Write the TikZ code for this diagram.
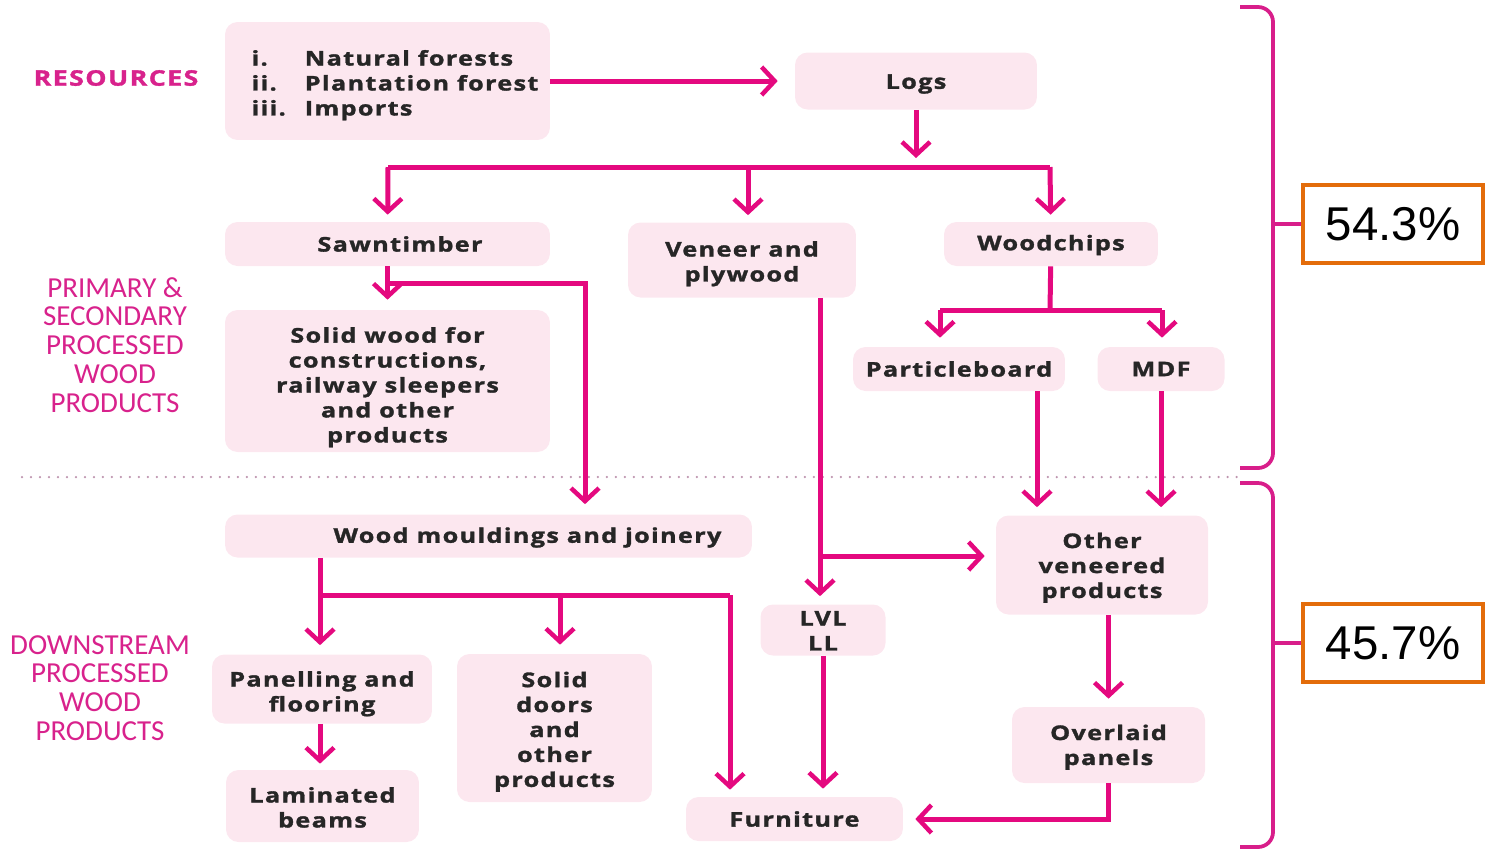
\documentclass[tikz,border=0pt]{standalone}
\usepackage{fontspec}
\setmainfont{Open Sans}[LetterSpace=6.5, BoldFeatures={FakeStretch=1.25, FakeBold=1.5}]
\newfontfamily\labfont{Carlito}
\newfontfamily\pctfont{Liberation Sans}
\usetikzlibrary{arrows.meta}
\definecolor{mag}{HTML}{E4097F}
\definecolor{boxpink}{HTML}{FCE7EF}
\definecolor{labpink}{HTML}{D8228C}
\definecolor{bracepink}{HTML}{D81E8A}
\definecolor{orng}{HTML}{E36C0A}
\definecolor{dotpink}{HTML}{BE94AE}
\newcommand\ml[2][0.08cm]{\raisebox{-#1}[\height][\depth]{\begin{tabular}{@{}c@{}}#2\end{tabular}}}
\newcommand\lo[2][0.06cm]{\raisebox{-#1}[\height][\depth]{#2}}
\tikzset{
  box/.style={fill=boxpink, rounded corners=0.25cm, inner sep=0pt, align=center,
    font=\fontsize{11.5}{14.2}\selectfont\bfseries, text=black!85},
  flow/.style={draw=mag, line width=0.1cm},
  arr/.style={flow, -{Straight Barb[length=0.26cm, width=0.56cm, line width=0.09cm]}},
  lab/.style={align=center, text=labpink, font=\labfont\fontsize{16.5}{16.4}\selectfont},
  brace/.style={draw=bracepink, line width=0.075cm, rounded corners=0.3cm},
  pct/.style={draw=orng, line width=0.08cm, fill=white, inner sep=0pt,
    minimum width=3.6cm, minimum height=1.56cm, font=\pctfont\fontsize{27}{30}\selectfont}
}
\begin{document}
\begin{tikzpicture}[x=0.02cm, y=-0.02cm]
\useasboundingbox (0,0) rectangle (1486,850);

% side labels
\node[text=labpink, font=\fontsize{12.2}{15}\selectfont\bfseries] (lres) at (116,78) {RESOURCES};
\node[lab] (lprim) at (115,345) {PRIMARY \&\\SECONDARY\\PROCESSED\\WOOD\\PRODUCTS};
\node[lab] (ldown) at (100,688) {DOWNSTREAM\\PROCESSED\\WOOD\\PRODUCTS};

% dotted separator
\coordinate (dl) at (22,477);
\coordinate (dr) at (1240,477);
\draw[dotpink, line width=0.05cm, line cap=round, dash pattern=on 0pt off 0.18cm] (dl) -- (dr);

% boxes
\node[box, minimum width=6.5cm, minimum height=2.36cm] (res) at (387.5,81)
  {\hspace*{0.3cm}\raisebox{-0.09cm}[\height][\depth]{\begin{tabular}{@{}l@{\hspace{0.38cm}}l@{}}i. & Natural forests\\ ii. & Plantation forest\\ iii. & Imports\end{tabular}}};
\node[box, minimum width=4.84cm, minimum height=1.14cm] (logs) at (916,81) {\lo{Logs}};
\node[box, minimum width=6.5cm, minimum height=0.88cm] (saw) at (387.5,244) {\hspace*{0.5cm}Sawntimber};
\node[box, minimum width=4.56cm, minimum height=1.5cm] (ven) at (742,260) {\ml{Veneer and\\plywood}};
\node[box, minimum width=4.28cm, minimum height=0.88cm] (chips) at (1051,244) {\lo[0.02cm]{Woodchips}};
\node[box, minimum width=6.5cm, minimum height=2.84cm] (solid) at (387.5,381) {\ml[0.13cm]{Solid wood for\\constructions,\\railway sleepers\\and other\\products}};
\node[box, minimum width=4.24cm, minimum height=0.88cm] (pb) at (959,369) {Particleboard};
\node[box, minimum width=2.54cm, minimum height=0.88cm] (mdf) at (1161,369) {MDF};
\node[box, minimum width=10.54cm, minimum height=0.86cm] (mould) at (488.5,536) {\hspace*{1.56cm}\lo[0.03cm]{Wood mouldings and joinery}};
\node[box, minimum width=4.24cm, minimum height=1.98cm] (other) at (1102,565) {\ml[0.06cm]{Other\\veneered\\products}};
\node[box, minimum width=2.5cm, minimum height=1.02cm] (lvl) at (823,630) {\ml[0.06cm]{LVL\\LL}};
\node[box, minimum width=4.4cm, minimum height=1.38cm] (pan) at (322,689) {\ml[0.1cm]{Panelling and\\flooring}};
\node[box, minimum width=3.9cm, minimum height=2.96cm] (doors) at (554.5,728) {\ml[0.08cm]{Solid\\doors\\and\\other\\products}};
\node[box, minimum width=3.86cm, minimum height=1.52cm] (over) at (1108.5,745) {\ml[0.05cm]{Overlaid\\panels}};
\node[box, minimum width=3.86cm, minimum height=1.44cm] (lam) at (322.5,806) {\ml[0.08cm]{Laminated\\beams}};
\node[box, minimum width=4.34cm, minimum height=0.88cm] (furn) at (794.5,819) {Furniture};

% junction coordinates
\coordinate (j1) at (916,167);
\coordinate (jL) at (388,167);
\coordinate (jM) at (748,167);
\coordinate (jR) at (1050,167);
\coordinate (j2) at (388,283);
\coordinate (xS) at (585,0);
\coordinate (j3) at (820,556);
\coordinate (j4) at (1050,310);
\coordinate (jPB) at (940,310);
\coordinate (jMDF) at (1162,310);
\coordinate (xPB) at (1037,0);
\coordinate (j5) at (320,595);
\coordinate (xF) at (730,0);
\coordinate (xD) at (560,0);

% connectors
\draw[arr, shorten >=0.34cm] (res.east) -- (logs.west);
\draw[arr, shorten >=0.18cm] (logs) -- (j1);
\draw[flow] (jL) -- (jR);
\draw[arr, shorten >=0.14cm] (jL) -- (saw);
\draw[arr, shorten >=0.14cm] (jM) -- (jM |- ven.north);
\draw[arr, shorten >=0.14cm] (jR) -- (chips);
\draw[arr, shorten >=0.2cm] (saw) -- (solid);
\draw[arr, shorten >=0.2cm] (j2) -| (xS |- mould.north);
\draw[arr, shorten >=0.16cm] (ven.south -| j3) -- (j3 |- lvl.north);
\draw[arr, shorten >=0.22cm] (j3) -- (other.west |- j3);
\draw[flow] (chips) -- (j4);
\draw[flow] (jPB) -- (jMDF);
\draw[arr, shorten >=0.18cm] (jPB) -- (jPB |- pb.north);
\draw[arr, shorten >=0.18cm] (jMDF) -- (jMDF |- mdf.north);
\draw[arr, shorten >=0.16cm] (pb.south -| xPB) -- (other.north -| xPB);
\draw[arr, shorten >=0.16cm] (mdf.south) -- (other.north -| mdf.south);
\draw[arr, shorten >=0.18cm] (mould.south -| j5) -- (j5 |- pan.north);
\draw[flow] (j5) -- (j5 -| xF);
\draw[arr, shorten >=0.18cm] (j5 -| xD) -- (xD |- doors.north);
\draw[arr, shorten >=0.14cm] (j5 -| xF) -- (xF |- furn.north);
\draw[arr, shorten >=0.16cm] (lvl.south) -- (lvl.south |- furn.north);
\draw[arr, shorten >=0.16cm] (other.south -| over.north) -- (over.north);
\draw[arr, shorten >=0.12cm] (pan.south -| j5) -- (j5 |- lam.north);
\draw[arr, shorten >=0.24cm] (over.south) |- (furn.east);

% braces and percentages
\node[pct] (p1) at (1393,224) {54.3\%};
\node[pct] (p2) at (1393,643) {45.7\%};
\coordinate (b1a) at (1240,7);
\coordinate (b1b) at (1240,468);
\coordinate (b1t) at (1273,224);
\coordinate (b2a) at (1240,483);
\coordinate (b2b) at (1240,847);
\coordinate (b2t) at (1273,643);
\draw[brace] (b1a) -- (b1a -| b1t) -- (b1b -| b1t) -- (b1b);
\draw[brace] (b2a) -- (b2a -| b2t) -- (b2b -| b2t) -- (b2b);
\draw[draw=bracepink, line width=0.075cm] (b1t) -- (p1.west);
\draw[draw=bracepink, line width=0.075cm] (b2t) -- (p2.west);
\end{tikzpicture}
\end{document}
